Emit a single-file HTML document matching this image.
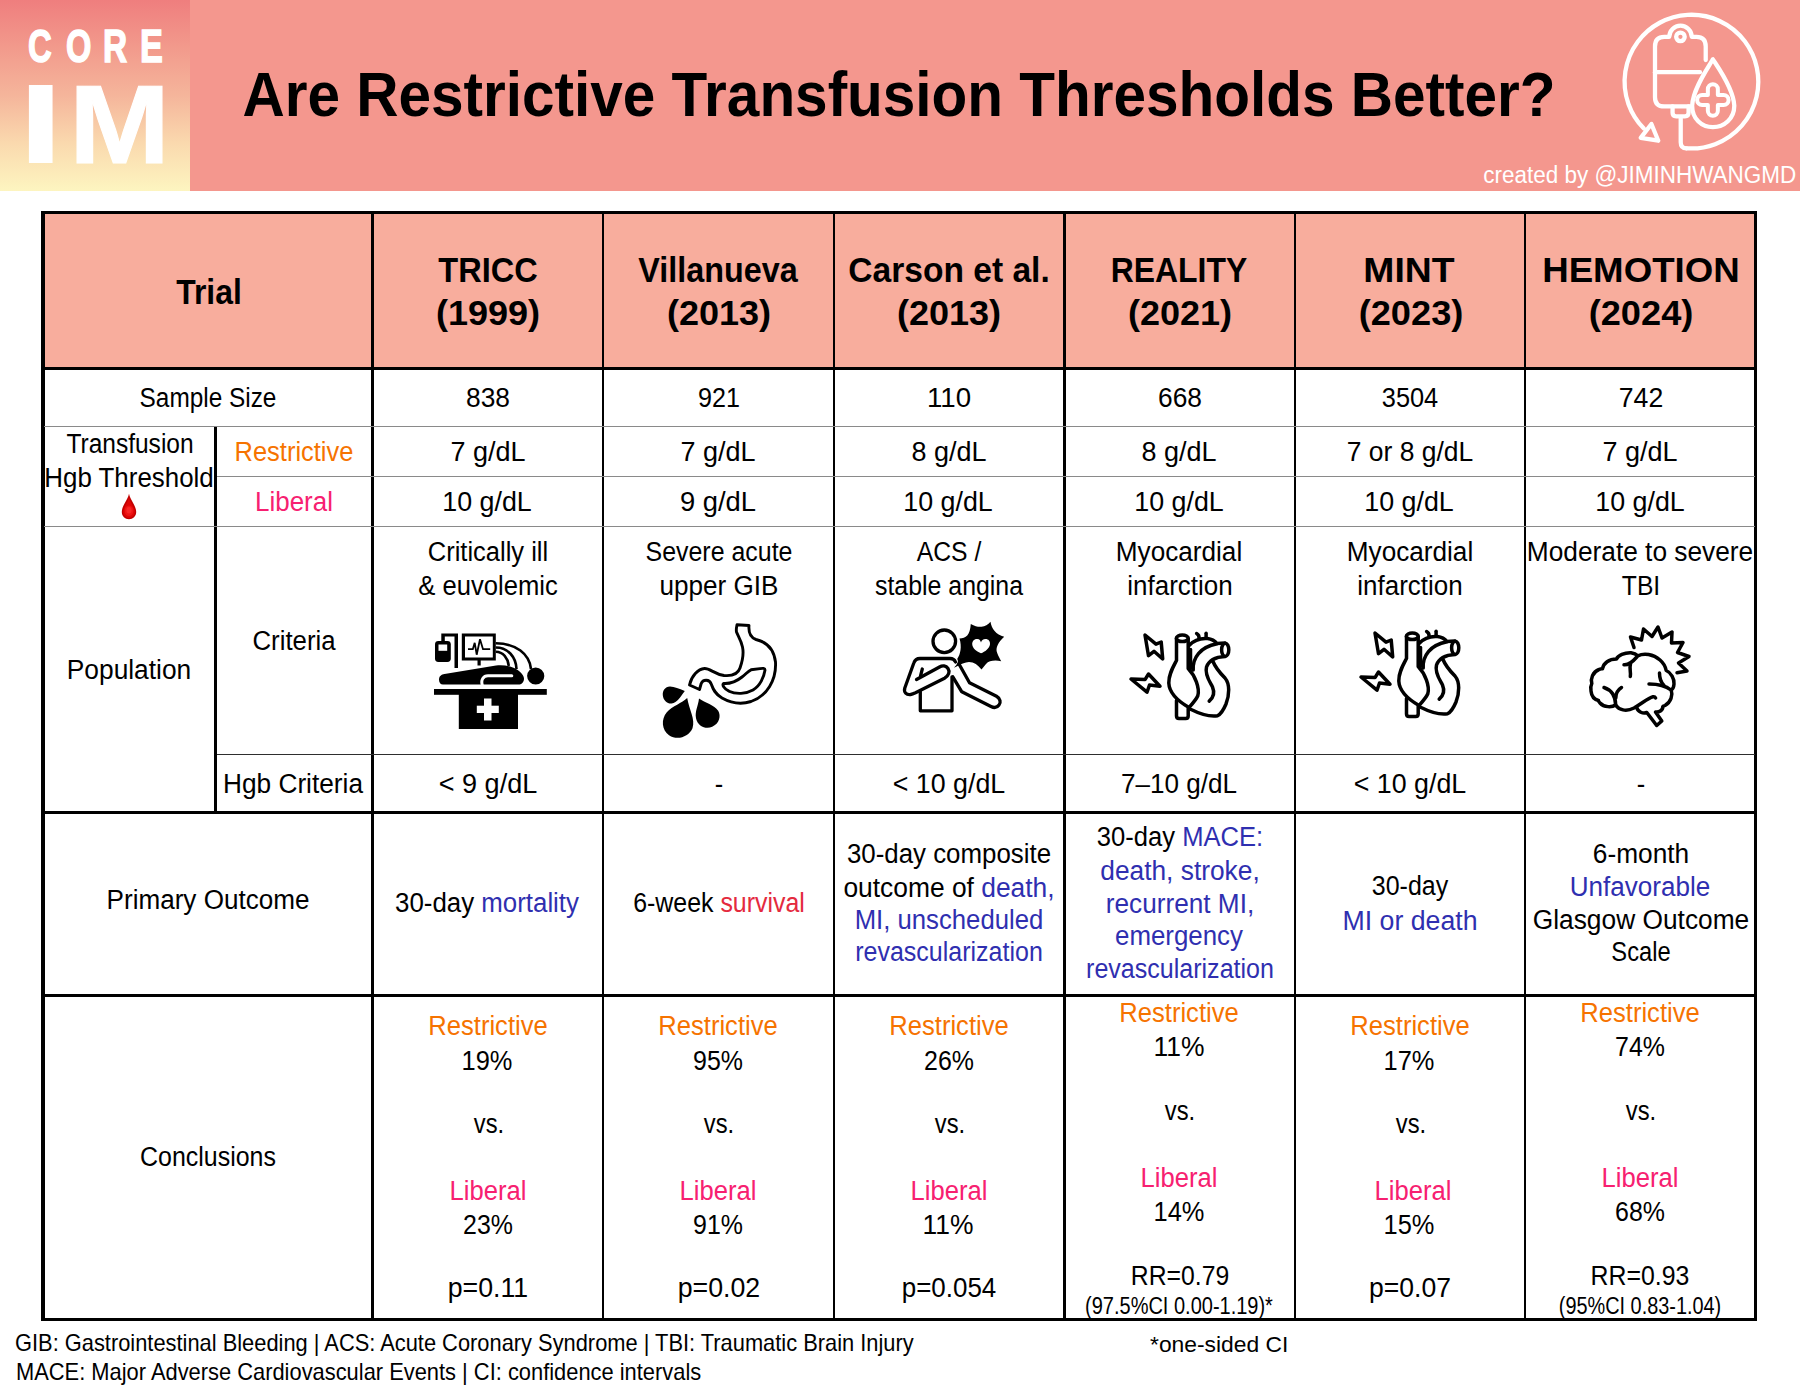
<!DOCTYPE html>
<html lang="en">
<head>
<meta charset="utf-8">
<title>Are Restrictive Transfusion Thresholds Better?</title>
<style>
html,body{margin:0;padding:0;}
body{width:1800px;height:1400px;position:relative;overflow:hidden;background:#fff;font-family:"Liberation Sans",sans-serif;color:#000;}
.t{position:absolute;white-space:nowrap;line-height:1;}
.b{position:absolute;background:#000;}
.g{position:absolute;background:#8a8a8a;}
#banner{position:absolute;left:0;top:0;width:1800px;height:190.8px;background:#F4978E;}
#logo{position:absolute;left:0;top:0;width:190px;height:190.8px;background:linear-gradient(180deg,#EF7E7E 0%,#F29A8C 25%,#F5B59B 50%,#FAD9AE 75%,#FDF5C0 100%);}
#logo span{position:absolute;color:#fff;font-weight:700;line-height:1;white-space:nowrap;transform-origin:0 0;}
#thead{position:absolute;left:43px;top:213px;width:1713px;height:155px;background:#F8AD9D;}
svg{position:absolute;overflow:visible;}
</style>
</head>
<body>
<div id="banner"></div>
<div id="logo">
</div>
<div id="thead"></div>

<!-- thick horizontal rules -->
<div class="b" style="left:41.3px;top:210.9px;width:1715.4px;height:3.5px"></div>
<div class="b" style="left:41.3px;top:366.5px;width:1715.4px;height:3.5px"></div>
<div class="b" style="left:41.3px;top:810.5px;width:1715.4px;height:3.5px"></div>
<div class="b" style="left:41.3px;top:993.9px;width:1715.4px;height:3.3px"></div>
<div class="b" style="left:41.3px;top:1318px;width:1715.4px;height:3.3px"></div>

<!-- vertical rules -->
<div class="b" style="left:41.3px;top:210.9px;width:3.5px;height:1110.4px"></div>
<div class="b" style="left:214px;top:426.5px;width:3.4px;height:386px"></div>
<div class="b" style="left:371px;top:210.9px;width:3.2px;height:1110.4px"></div>
<div class="b" style="left:602.2px;top:210.9px;width:2.3px;height:1110.4px"></div>
<div class="b" style="left:832.8px;top:210.9px;width:2.3px;height:1110.4px"></div>
<div class="b" style="left:1063.3px;top:210.9px;width:2.3px;height:1110.4px"></div>
<div class="b" style="left:1293.9px;top:210.9px;width:2.3px;height:1110.4px"></div>
<div class="b" style="left:1524.2px;top:210.9px;width:2.3px;height:1110.4px"></div>
<div class="b" style="left:1754.2px;top:210.9px;width:2.5px;height:1110.4px"></div>

<!-- thin grey rules -->
<div class="g" style="left:44px;top:426px;width:1711px;height:1.15px"></div>
<div class="g" style="left:217px;top:476px;width:1538px;height:1.15px"></div>
<div class="g" style="left:44px;top:526px;width:1711px;height:1.15px"></div>
<div class="g" style="left:217px;top:754px;width:1538px;height:1.4px;background:#2e2e2e"></div>

<div class="t" style="top:63px;font-size:62.6px;font-weight:700;left:899.04px;transform:translateX(-50%) scaleX(0.9343);">Are Restrictive Transfusion Thresholds Better?</div>
<div class="t" style="top:164px;font-size:23px;color:#fff;right:4.20px;transform-origin:100% 50%;transform:scaleX(0.9773);">created by @JIMINHWANGMD</div>
<div class="t" style="top:275px;font-size:34.6px;font-weight:700;left:208.74px;transform:translateX(-50%) scaleX(0.9206);">Trial</div>
<div class="t" style="top:253px;font-size:34.6px;font-weight:700;left:488.19px;transform:translateX(-50%) scaleX(0.9415);">TRICC</div>
<div class="t" style="top:296px;font-size:34.6px;font-weight:700;left:488.47px;transform:translateX(-50%) scaleX(1.0417);">(1999)</div>
<div class="t" style="top:253px;font-size:34.6px;font-weight:700;left:718.24px;transform:translateX(-50%) scaleX(0.9345);">Villanueva</div>
<div class="t" style="top:296px;font-size:34.6px;font-weight:700;left:718.87px;transform:translateX(-50%) scaleX(1.0417);">(2013)</div>
<div class="t" style="top:253px;font-size:34.6px;font-weight:700;left:949.29px;transform:translateX(-50%) scaleX(0.9710);">Carson et al.</div>
<div class="t" style="top:296px;font-size:34.6px;font-weight:700;left:949.27px;transform:translateX(-50%) scaleX(1.0417);">(2013)</div>
<div class="t" style="top:253px;font-size:34.6px;font-weight:700;left:1178.71px;transform:translateX(-50%) scaleX(0.9221);">REALITY</div>
<div class="t" style="top:296px;font-size:34.6px;font-weight:700;left:1179.87px;transform:translateX(-50%) scaleX(1.0417);">(2021)</div>
<div class="t" style="top:253px;font-size:34.6px;font-weight:700;left:1409.29px;transform:translateX(-50%) scaleX(1.0802);">MINT</div>
<div class="t" style="top:296px;font-size:34.6px;font-weight:700;left:1410.57px;transform:translateX(-50%) scaleX(1.0468);">(2023)</div>
<div class="t" style="top:253px;font-size:34.6px;font-weight:700;left:1640.58px;transform:translateX(-50%) scaleX(1.0610);">HEMOTION</div>
<div class="t" style="top:296px;font-size:34.6px;font-weight:700;left:1640.87px;transform:translateX(-50%) scaleX(1.0468);">(2024)</div>
<div class="t" style="top:385px;font-size:27.0px;left:208.01px;transform:translateX(-50%) scaleX(0.9026);">Sample Size</div>
<div class="t" style="top:385px;font-size:27.0px;left:488.21px;transform:translateX(-50%) scaleX(0.9757);">838</div>
<div class="t" style="top:385px;font-size:27.0px;left:718.61px;transform:translateX(-50%) scaleX(0.9292);">921</div>
<div class="t" style="top:385px;font-size:27.0px;left:948.50px;transform:translateX(-50%) scaleX(1.0242);">110</div>
<div class="t" style="top:385px;font-size:27.0px;left:1179.61px;transform:translateX(-50%) scaleX(0.9757);">668</div>
<div class="t" style="top:385px;font-size:27.0px;left:1409.84px;transform:translateX(-50%) scaleX(0.9397);">3504</div>
<div class="t" style="top:385px;font-size:27.0px;left:1640.61px;transform:translateX(-50%) scaleX(0.9873);">742</div>
<div class="t" style="top:431px;font-size:27.0px;left:130.06px;transform:translateX(-50%) scaleX(0.9083);">Transfusion</div>
<div class="t" style="top:465px;font-size:27.0px;left:129.13px;transform:translateX(-50%) scaleX(0.9591);">Hgb Threshold</div>
<div class="t" style="top:439px;font-size:27.0px;color:#F67300;left:294.14px;transform:translateX(-50%) scaleX(0.9430);">Restrictive</div>
<div class="t" style="top:489px;font-size:27.0px;color:#F72070;left:294.12px;transform:translateX(-50%) scaleX(0.9608);">Liberal</div>
<div class="t" style="top:439px;font-size:27.0px;left:487.71px;transform:translateX(-50%) scaleX(0.9992);">7 g/dL</div>
<div class="t" style="top:439px;font-size:27.0px;left:718.11px;transform:translateX(-50%) scaleX(0.9992);">7 g/dL</div>
<div class="t" style="top:439px;font-size:27.0px;left:948.51px;transform:translateX(-50%) scaleX(0.9992);">8 g/dL</div>
<div class="t" style="top:439px;font-size:27.0px;left:1179.11px;transform:translateX(-50%) scaleX(0.9992);">8 g/dL</div>
<div class="t" style="top:439px;font-size:27.0px;left:1409.82px;transform:translateX(-50%) scaleX(0.9799);">7 or 8 g/dL</div>
<div class="t" style="top:439px;font-size:27.0px;left:1640.11px;transform:translateX(-50%) scaleX(0.9992);">7 g/dL</div>
<div class="t" style="top:489px;font-size:27.0px;left:487.21px;transform:translateX(-50%) scaleX(0.9934);">10 g/dL</div>
<div class="t" style="top:489px;font-size:27.0px;left:718.10px;transform:translateX(-50%) scaleX(1.0127);">9 g/dL</div>
<div class="t" style="top:489px;font-size:27.0px;left:948.01px;transform:translateX(-50%) scaleX(0.9934);">10 g/dL</div>
<div class="t" style="top:489px;font-size:27.0px;left:1178.61px;transform:translateX(-50%) scaleX(0.9934);">10 g/dL</div>
<div class="t" style="top:489px;font-size:27.0px;left:1409.31px;transform:translateX(-50%) scaleX(0.9934);">10 g/dL</div>
<div class="t" style="top:489px;font-size:27.0px;left:1639.61px;transform:translateX(-50%) scaleX(0.9934);">10 g/dL</div>
<div class="t" style="top:657px;font-size:27.0px;left:129.12px;transform:translateX(-50%) scaleX(0.9752);">Population</div>
<div class="t" style="top:628px;font-size:27.0px;left:293.65px;transform:translateX(-50%) scaleX(0.9540);">Criteria</div>
<div class="t" style="top:771px;font-size:27.0px;left:293.15px;transform:translateX(-50%) scaleX(0.9718);">Hgb Criteria</div>
<div class="t" style="top:539px;font-size:27.0px;left:488.20px;transform:translateX(-50%) scaleX(0.9442);">Critically ill</div>
<div class="t" style="top:573px;font-size:27.0px;left:488.44px;transform:translateX(-50%) scaleX(0.9483);">&amp; euvolemic</div>
<div class="t" style="top:539px;font-size:27.0px;left:718.61px;transform:translateX(-50%) scaleX(0.9230);">Severe acute</div>
<div class="t" style="top:573px;font-size:27.0px;left:718.60px;transform:translateX(-50%) scaleX(0.9664);">upper GIB</div>
<div class="t" style="top:539px;font-size:27.0px;left:948.77px;transform:translateX(-50%) scaleX(0.9151);">ACS /</div>
<div class="t" style="top:573px;font-size:27.0px;left:948.55px;transform:translateX(-50%) scaleX(0.9219);">stable angina</div>
<div class="t" style="top:539px;font-size:27.0px;left:1179.12px;transform:translateX(-50%) scaleX(0.9683);">Myocardial</div>
<div class="t" style="top:573px;font-size:27.0px;left:1179.61px;transform:translateX(-50%) scaleX(0.9624);">infarction</div>
<div class="t" style="top:539px;font-size:27.0px;left:1409.82px;transform:translateX(-50%) scaleX(0.9683);">Myocardial</div>
<div class="t" style="top:573px;font-size:27.0px;left:1410.31px;transform:translateX(-50%) scaleX(0.9624);">infarction</div>
<div class="t" style="top:539px;font-size:27.0px;left:1640.12px;transform:translateX(-50%) scaleX(0.9734);">Moderate to severe</div>
<div class="t" style="top:573px;font-size:27.0px;left:1641.29px;transform:translateX(-50%) scaleX(0.9133);">TBI</div>
<div class="t" style="top:771px;font-size:27.0px;left:487.71px;transform:translateX(-50%) scaleX(1.0018);">&lt; 9 g/dL</div>
<div class="t" style="top:771px;font-size:27.0px;left:718.60px;transform:translateX(-50%) scaleX(0.9400);">-</div>
<div class="t" style="top:771px;font-size:27.0px;left:948.51px;transform:translateX(-50%) scaleX(0.9925);">&lt; 10 g/dL</div>
<div class="t" style="top:771px;font-size:27.0px;left:1179.13px;transform:translateX(-50%) scaleX(0.9655);">7–10 g/dL</div>
<div class="t" style="top:771px;font-size:27.0px;left:1409.81px;transform:translateX(-50%) scaleX(0.9925);">&lt; 10 g/dL</div>
<div class="t" style="top:771px;font-size:27.0px;left:1640.60px;transform:translateX(-50%) scaleX(0.9400);">-</div>
<div class="t" style="top:887px;font-size:27.0px;left:207.52px;transform:translateX(-50%) scaleX(0.9660);">Primary Outcome</div>
<div class="t" style="top:890px;font-size:27.0px;left:487.48px;transform:translateX(-50%) scaleX(0.9578);"><span style="color:#000">30-day </span><span style="color:#2F2FB0">mortality</span></div>
<div class="t" style="top:890px;font-size:27.0px;left:718.60px;transform:translateX(-50%) scaleX(0.9225);"><span style="color:#000">6-week </span><span style="color:#E42A3E">survival</span></div>
<div class="t" style="top:841px;font-size:27.0px;left:949.01px;transform:translateX(-50%) scaleX(0.9578);">30-day composite</div>
<div class="t" style="top:875px;font-size:27.0px;left:949.25px;transform:translateX(-50%) scaleX(0.9773);"><span style="color:#000">outcome of </span><span style="color:#2F2FB0">death,</span></div>
<div class="t" style="top:907px;font-size:27.0px;color:#2F2FB0;left:948.53px;transform:translateX(-50%) scaleX(0.9518);">MI, unscheduled</div>
<div class="t" style="top:939px;font-size:27.0px;color:#2F2FB0;left:949.01px;transform:translateX(-50%) scaleX(0.9258);">revascularization</div>
<div class="t" style="top:824px;font-size:27.0px;left:1179.84px;transform:translateX(-50%) scaleX(0.9476);"><span style="color:#000">30-day </span><span style="color:#2F2FB0">MACE:</span></div>
<div class="t" style="top:858px;font-size:27.0px;color:#2F2FB0;left:1179.84px;transform:translateX(-50%) scaleX(0.9745);">death, stroke,</div>
<div class="t" style="top:891px;font-size:27.0px;color:#2F2FB0;left:1179.84px;transform:translateX(-50%) scaleX(0.9698);">recurrent MI,</div>
<div class="t" style="top:923px;font-size:27.0px;color:#2F2FB0;left:1178.88px;transform:translateX(-50%) scaleX(0.9581);">emergency</div>
<div class="t" style="top:956px;font-size:27.0px;color:#2F2FB0;left:1179.61px;transform:translateX(-50%) scaleX(0.9273);">revascularization</div>
<div class="t" style="top:873px;font-size:27.0px;left:1409.61px;transform:translateX(-50%) scaleX(0.9261);">30-day</div>
<div class="t" style="top:908px;font-size:27.0px;color:#2F2FB0;left:1409.81px;transform:translateX(-50%) scaleX(0.9883);">MI or death</div>
<div class="t" style="top:841px;font-size:27.0px;left:1640.61px;transform:translateX(-50%) scaleX(0.9738);">6-month</div>
<div class="t" style="top:874px;font-size:27.0px;color:#2F2FB0;left:1640.13px;transform:translateX(-50%) scaleX(0.9644);">Unfavorable</div>
<div class="t" style="top:907px;font-size:27.0px;left:1640.61px;transform:translateX(-50%) scaleX(0.9747);">Glasgow Outcome</div>
<div class="t" style="top:939px;font-size:27.0px;left:1640.61px;transform:translateX(-50%) scaleX(0.8775);">Scale</div>
<div class="t" style="top:1144px;font-size:27.0px;left:207.77px;transform:translateX(-50%) scaleX(0.9239);">Conclusions</div>
<div class="t" style="top:1013px;font-size:27.0px;color:#F67300;left:487.73px;transform:translateX(-50%) scaleX(0.9470);">Restrictive</div>
<div class="t" style="top:1048px;font-size:27.0px;left:487.26px;transform:translateX(-50%) scaleX(0.9416);">19%</div>
<div class="t" style="top:1111px;font-size:27.0px;left:488.86px;transform:translateX(-50%) scaleX(0.8784);">vs.</div>
<div class="t" style="top:1178px;font-size:27.0px;color:#F72070;left:487.73px;transform:translateX(-50%) scaleX(0.9479);">Liberal</div>
<div class="t" style="top:1212px;font-size:27.0px;left:487.74px;transform:translateX(-50%) scaleX(0.9238);">23%</div>
<div class="t" style="top:1275px;font-size:27.0px;left:488.21px;transform:translateX(-50%) scaleX(0.9896);">p=0.11</div>
<div class="t" style="top:1013px;font-size:27.0px;color:#F67300;left:718.13px;transform:translateX(-50%) scaleX(0.9470);">Restrictive</div>
<div class="t" style="top:1048px;font-size:27.0px;left:718.14px;transform:translateX(-50%) scaleX(0.9238);">95%</div>
<div class="t" style="top:1111px;font-size:27.0px;left:719.26px;transform:translateX(-50%) scaleX(0.8784);">vs.</div>
<div class="t" style="top:1178px;font-size:27.0px;color:#F72070;left:718.13px;transform:translateX(-50%) scaleX(0.9479);">Liberal</div>
<div class="t" style="top:1212px;font-size:27.0px;left:718.14px;transform:translateX(-50%) scaleX(0.9238);">91%</div>
<div class="t" style="top:1275px;font-size:27.0px;left:718.61px;transform:translateX(-50%) scaleX(0.9898);">p=0.02</div>
<div class="t" style="top:1013px;font-size:27.0px;color:#F67300;left:948.53px;transform:translateX(-50%) scaleX(0.9470);">Restrictive</div>
<div class="t" style="top:1048px;font-size:27.0px;left:948.54px;transform:translateX(-50%) scaleX(0.9238);">26%</div>
<div class="t" style="top:1111px;font-size:27.0px;left:949.66px;transform:translateX(-50%) scaleX(0.8784);">vs.</div>
<div class="t" style="top:1178px;font-size:27.0px;color:#F72070;left:948.53px;transform:translateX(-50%) scaleX(0.9479);">Liberal</div>
<div class="t" style="top:1212px;font-size:27.0px;left:948.02px;transform:translateX(-50%) scaleX(0.9792);">11%</div>
<div class="t" style="top:1275px;font-size:27.0px;left:948.53px;transform:translateX(-50%) scaleX(0.9605);">p=0.054</div>
<div class="t" style="top:1000px;font-size:27.0px;color:#F67300;left:1179.13px;transform:translateX(-50%) scaleX(0.9470);">Restrictive</div>
<div class="t" style="top:1034px;font-size:27.0px;left:1178.62px;transform:translateX(-50%) scaleX(0.9792);">11%</div>
<div class="t" style="top:1098px;font-size:27.0px;left:1180.26px;transform:translateX(-50%) scaleX(0.8784);">vs.</div>
<div class="t" style="top:1165px;font-size:27.0px;color:#F72070;left:1179.13px;transform:translateX(-50%) scaleX(0.9479);">Liberal</div>
<div class="t" style="top:1199px;font-size:27.0px;left:1178.66px;transform:translateX(-50%) scaleX(0.9416);">14%</div>
<div class="t" style="top:1013px;font-size:27.0px;color:#F67300;left:1409.83px;transform:translateX(-50%) scaleX(0.9470);">Restrictive</div>
<div class="t" style="top:1048px;font-size:27.0px;left:1409.36px;transform:translateX(-50%) scaleX(0.9416);">17%</div>
<div class="t" style="top:1111px;font-size:27.0px;left:1410.96px;transform:translateX(-50%) scaleX(0.8784);">vs.</div>
<div class="t" style="top:1178px;font-size:27.0px;color:#F72070;left:1412.83px;transform:translateX(-50%) scaleX(0.9479);">Liberal</div>
<div class="t" style="top:1212px;font-size:27.0px;left:1409.36px;transform:translateX(-50%) scaleX(0.9416);">15%</div>
<div class="t" style="top:1275px;font-size:27.0px;left:1410.31px;transform:translateX(-50%) scaleX(0.9837);">p=0.07</div>
<div class="t" style="top:1000px;font-size:27.0px;color:#F67300;left:1640.13px;transform:translateX(-50%) scaleX(0.9470);">Restrictive</div>
<div class="t" style="top:1034px;font-size:27.0px;left:1640.14px;transform:translateX(-50%) scaleX(0.9238);">74%</div>
<div class="t" style="top:1098px;font-size:27.0px;left:1641.26px;transform:translateX(-50%) scaleX(0.8784);">vs.</div>
<div class="t" style="top:1165px;font-size:27.0px;color:#F72070;left:1640.13px;transform:translateX(-50%) scaleX(0.9479);">Liberal</div>
<div class="t" style="top:1199px;font-size:27.0px;left:1640.14px;transform:translateX(-50%) scaleX(0.9238);">68%</div>
<div class="t" style="top:1263px;font-size:27.0px;left:1179.55px;transform:translateX(-50%) scaleX(0.9165);">RR=0.79</div>
<div class="t" style="top:1295px;font-size:23px;left:1179.14px;transform:translateX(-50%) scaleX(0.8693);">(97.5%CI 0.00-1.19)*</div>
<div class="t" style="top:1263px;font-size:27.0px;left:1640.15px;transform:translateX(-50%) scaleX(0.9203);">RR=0.93</div>
<div class="t" style="top:1295px;font-size:23px;left:1640.45px;transform:translateX(-50%) scaleX(0.8643);">(95%CI 0.83-1.04)</div>
<div class="t" style="top:1332px;font-size:23.6px;left:14.87px;transform-origin:0 50%;transform:scaleX(0.9261);">GIB: Gastrointestinal Bleeding | ACS: Acute Coronary Syndrome | TBI: Traumatic Brain Injury</div>
<div class="t" style="top:1361px;font-size:23.6px;left:15.67px;transform-origin:0 50%;transform:scaleX(0.9270);">MACE: Major Adverse Cardiovascular Events | CI: confidence intervals</div>
<div class="t" style="top:1334px;font-size:22.2px;left:1150.10px;transform-origin:0 50%;transform:scaleX(1.0295);">*one-sided CI</div>
<div id="logo-core"><span class="t" style="top:23px;font-size:46.2px;font-weight:700;color:#fff;left:27.89px;transform-origin:0 50%;transform:scaleX(0.7124);-webkit-text-stroke:1.5px #fff;">C</span><span class="t" style="top:23px;font-size:46.2px;font-weight:700;color:#fff;left:65.99px;transform-origin:0 50%;transform:scaleX(0.7058);-webkit-text-stroke:1.5px #fff;">O</span><span class="t" style="top:23px;font-size:46.2px;font-weight:700;color:#fff;left:102.53px;transform-origin:0 50%;transform:scaleX(0.7232);-webkit-text-stroke:1.5px #fff;">R</span><span class="t" style="top:23px;font-size:46.2px;font-weight:700;color:#fff;left:139.87px;transform-origin:0 50%;transform:scaleX(0.7421);-webkit-text-stroke:1.5px #fff;">E</span></div>
<div id="logo-im"><span class="t" style="top:68px;font-size:112.6px;font-weight:700;color:#fff;left:17.74px;transform-origin:0 50%;transform:scaleX(1.4517);">I</span><span class="t" style="top:68px;font-size:112.2px;font-weight:700;color:#fff;left:68.63px;transform-origin:0 50%;transform:scaleX(1.0810);-webkit-text-stroke:1px #fff;">M</span></div>

<!-- ICU bed -->
<svg style="left:420px;top:610px" width="140" height="140" viewBox="0 0 1400 1400">
<g fill="#000" stroke="none">
<path d="M213 235H380V580H345V265H248V320H213Z"/>
<rect x="150" y="310" width="158" height="210" rx="34"/>
<path d="M418 235H758V505H607V555H575V505H418Z"/>
<path d="M190 695C190 660 215 645 245 640L760 556C820 548 900 556 960 590C1010 620 1042 655 1040 690C1038 725 1015 745 985 745H230C205 745 190 725 190 695Z"/>
<circle cx="1157" cy="660" r="86"/>
<rect x="140" y="790" width="1128" height="58"/>
<rect x="388" y="840" width="592" height="350"/>
</g>
<g fill="#fff" stroke="none">
<rect x="185" y="345" width="87" height="63"/>
<rect x="450" y="265" width="278" height="210"/>
<rect x="640" y="885" width="75" height="220"/>
<rect x="568" y="957" width="220" height="73"/>
</g>
<g fill="none" stroke="#000" stroke-width="26">
<path d="M758 333C960 333 1095 440 1110 590"/>
<path d="M758 375C880 375 960 470 965 590"/>
<path d="M758 417C830 417 880 480 888 560"/>
</g>
<path d="M480 392H528L547 328L567 447L600 292L630 392H702" fill="none" stroke="#000" stroke-width="18" stroke-linejoin="miter"/>
<path d="M918 657H680C632 657 608 700 622 748" fill="none" stroke="#fff" stroke-width="30" stroke-linecap="round"/>
</svg>

<!-- stomach + blood drops -->
<svg style="left:650px;top:610px" width="140" height="140" viewBox="0 0 1400 1400">
<path d="M870 147L990 155C985 215 1000 275 1060 295C1170 320 1240 390 1255 520C1265 700 1170 860 1010 915C900 950 800 925 720 880C650 840 630 790 612 740C595 690 530 690 512 735L495 795L395 750C415 660 480 590 545 585C600 582 640 640 740 655C820 662 880 640 900 580C925 510 940 440 925 370C910 300 880 260 865 220C860 195 865 170 870 147Z" fill="none" stroke="#000" stroke-width="29" stroke-linejoin="round"/>
<path d="M735 735C720 750 740 790 790 812C860 845 960 840 1030 800C1100 760 1140 670 1150 600C1150 580 1130 582 1100 586L1010 598C980 610 960 640 920 670C870 710 810 740 735 735Z" fill="none" stroke="#000" stroke-width="29" stroke-linejoin="round"/>
<g fill="#000">
<path d="M348 810C290 790 245 766 200 766C150 768 124 810 128 852C133 905 172 938 216 935C275 927 300 872 348 810Z"/>
<path d="M372 880C320 930 225 960 168 1022C108 1095 118 1200 190 1252C272 1305 385 1272 425 1182C455 1092 392 1000 372 880Z"/>
<path d="M490 885C482 960 448 1010 460 1082C478 1165 560 1195 622 1168C694 1136 712 1060 682 1008C642 948 552 930 490 885Z"/>
</g>
</svg>

<!-- chest pain person -->
<svg style="left:890px;top:610px" width="140" height="140" viewBox="0 0 1400 1400">
<g fill="none" stroke="#000" stroke-width="33" stroke-linejoin="round" stroke-linecap="round">
<circle cx="543" cy="313" r="113"/>
<path d="M655 520C645 495 630 485 600 485H300C265 485 248 500 238 530L148 780C135 825 165 850 205 845C225 842 240 835 255 828L545 682C590 658 600 615 580 585C560 555 525 553 495 570L265 695"/>
<path d="M323 590L305 662"/>
<path d="M303 815V1008H620V668"/>
<path d="M690 540L795 728L1065 862C1105 885 1110 925 1090 950C1070 978 1040 980 1010 965L718 818L628 668"/>
</g>
<path d="M1005 118C1015 190 1060 245 1142 268C1085 320 1050 380 1072 430C1085 465 1100 490 1112 512C1050 500 990 505 960 540C945 560 930 575 915 595C880 550 840 520 790 520C750 522 715 540 640 578C670 545 690 515 672 490C705 440 720 370 695 285C760 285 800 250 808 140C850 165 880 170 915 168C950 165 980 145 1005 118Z" fill="#000"/>
<path d="M910 432C870 415 822 385 822 340C822 305 850 287 875 290C895 292 905 305 910 325C915 305 930 290 955 290C985 290 1002 312 1000 342C995 385 950 418 910 432Z" fill="#fff"/>
</svg>

<!-- heart + lightning (REALITY) -->
<svg style="left:1110px;top:610px" width="140" height="140" viewBox="0 0 1400 1400">
<g fill="none" stroke="#000" stroke-width="35" stroke-linejoin="round" stroke-linecap="round">
<ellipse cx="723" cy="283" rx="60" ry="33"/>
<path d="M665 285V505C625 580 585 650 588 730C592 820 660 900 790 975"/>
<path d="M782 290V585C850 655 900 780 878 858C860 900 822 940 790 975"/>
<path d="M665 905V1060Q665 1085 690 1085H757Q782 1085 782 1060V985"/>
<path d="M790 355C840 300 910 280 975 285C1020 290 1050 310 1070 335L1150 330"/>
<path d="M805 395V585"/>
<path d="M832 600C825 480 900 370 1070 338"/>
<ellipse cx="1152" cy="398" rx="36" ry="66"/>
<path d="M866 235C885 245 892 260 890 280"/>
<path d="M961 232V282"/>
<path d="M1150 465C1060 470 990 500 965 570C945 650 1000 720 1025 770C1050 830 1030 880 992 912"/>
<path d="M1030 515C1060 590 1110 640 1150 680C1200 740 1195 850 1160 940C1135 1000 1110 1040 1075 1058C1000 1070 900 1040 800 990"/>
<path d="M350 250L460 342L512 320L527 490L440 413L385 457Z"/>
<path d="M210 690L350 696L385 640L500 762L395 750L370 822Z"/>
</g>
</svg>
<!-- heart + lightning (MINT) -->
<svg style="left:1340px;top:607.8px" width="140" height="140" viewBox="0 0 1400 1400">
<g fill="none" stroke="#000" stroke-width="35" stroke-linejoin="round" stroke-linecap="round">
<ellipse cx="723" cy="283" rx="60" ry="33"/>
<path d="M665 285V505C625 580 585 650 588 730C592 820 660 900 790 975"/>
<path d="M782 290V585C850 655 900 780 878 858C860 900 822 940 790 975"/>
<path d="M665 905V1060Q665 1085 690 1085H757Q782 1085 782 1060V985"/>
<path d="M790 355C840 300 910 280 975 285C1020 290 1050 310 1070 335L1150 330"/>
<path d="M805 395V585"/>
<path d="M832 600C825 480 900 370 1070 338"/>
<ellipse cx="1152" cy="398" rx="36" ry="66"/>
<path d="M866 235C885 245 892 260 890 280"/>
<path d="M961 232V282"/>
<path d="M1150 465C1060 470 990 500 965 570C945 650 1000 720 1025 770C1050 830 1030 880 992 912"/>
<path d="M1030 515C1060 590 1110 640 1150 680C1200 740 1195 850 1160 940C1135 1000 1110 1040 1075 1058C1000 1070 900 1040 800 990"/>
<path d="M350 250L460 342L512 320L527 490L440 413L385 457Z"/>
<path d="M210 690L350 696L385 640L500 762L395 750L370 822Z"/>
</g>
</svg>

<!-- brain + impact -->
<svg style="left:1570px;top:610px" width="140" height="140" viewBox="0 0 1400 1400">
<g fill="none" stroke="#000" stroke-width="35" stroke-linejoin="round" stroke-linecap="round">
<path d="M455 950C420 975 340 975 300 930C290 920 285 910 285 905C245 895 215 860 210 810C205 780 208 755 218 735C205 690 225 620 290 595C305 588 318 585 325 588C335 530 390 490 465 490C480 455 545 425 610 428C640 432 665 445 678 458C740 430 830 440 900 500C935 530 955 570 962 605C1010 625 1045 690 1040 740C1038 770 1030 790 1012 800C1030 850 1010 920 950 955C940 960 932 963 928 965C930 1000 895 1025 855 1020L918 1110L867 1155L768 1025C730 1040 680 1020 667 975"/>
<path d="M455 950C490 1000 560 1020 640 980C720 935 780 880 830 868C842 866 852 872 856 880"/>
<path d="M540 548C590 552 625 520 668 470"/>
<path d="M605 540C590 590 612 620 603 665"/>
<path d="M340 775C400 795 455 850 457 950"/>
<path d="M515 775C475 800 458 840 458 880"/>
<path d="M790 740C880 740 960 760 1010 800"/>
<path d="M895 630C895 690 910 725 940 755"/>
<path d="M640 375L605 270L715 300L735 190L820 265L880 170L920 280L1020 220L1015 330L1130 325L1075 425L1190 465L1085 530L1170 610L1070 628"/>
</g>
</svg>

<!-- small red blood drop -->
<svg style="left:119px;top:493px" width="20" height="28" viewBox="0 0 200 280">
<path d="M100 8C86 75 28 128 28 190C28 232 60 262 100 262C140 262 172 232 172 190C172 128 114 75 100 8Z" fill="#C20000"/>
<path d="M100 40C90 100 42 140 42 188C42 224 68 248 100 248C132 248 158 224 158 188C158 140 110 100 100 40Z" fill="#DE0606"/>
<ellipse cx="100" cy="178" rx="44" ry="52" fill="#EE1414"/>
<ellipse cx="100" cy="172" rx="26" ry="32" fill="#F82626"/>
</svg>

<!-- header blood bag icon -->
<svg style="left:1580px;top:0px" width="220" height="200" viewBox="0 0 1540 1400">
<g fill="none" stroke="#fff" stroke-width="30" stroke-linejoin="round" stroke-linecap="round">
<path d="M745 1038A468 468 0 1 0 447 900"/>
<path d="M500 868L425 965L548 985Z"/>
<path d="M705 830V995Q705 1038 745 1038"/>
<path d="M880 420V325Q880 258 815 258H782A78 78 0 0 0 625 258H590Q525 258 525 325V680Q525 745 590 745H770"/>
<circle cx="703" cy="258" r="30"/>
<path d="M525 505H840"/>
<path d="M648 745V790Q648 815 673 815H735Q760 815 760 790V745"/>
<path d="M930 415C900 470 790 620 785 740C785 830 850 890 930 890C1010 890 1080 830 1080 740C1075 620 965 470 930 415Z"/>
<path d="M895 665V625A35 35 0 0 1 965 625V665H1005A35 35 0 0 1 1005 735H965V775A35 35 0 0 1 895 775V735H855A35 35 0 0 1 855 665Z" stroke-width="28"/>
</g>
</svg>

</body>
</html>
